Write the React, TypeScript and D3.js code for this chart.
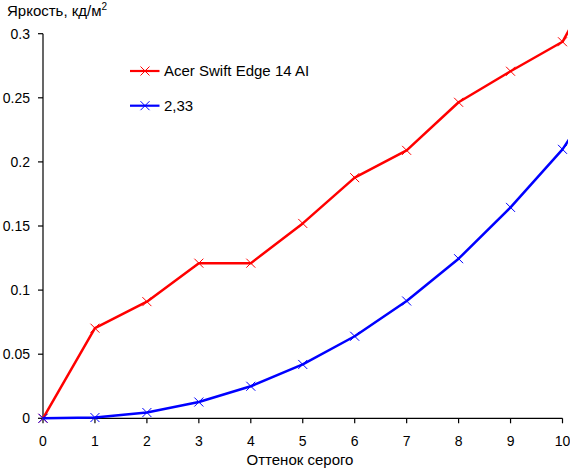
import React, { useEffect, useRef } from "react";
import * as d3 from "d3";

const grayLevels = [0, 1, 2, 3, 4, 5, 6, 7, 8, 9, 10, 11];
const acerValues = [0, 0.0703, 0.091, 0.121, 0.121, 0.152, 0.1877, 0.209, 0.2465, 0.2707, 0.2937, 0.367];
const gammaValues = [0, 0.0006, 0.0045, 0.0127, 0.025, 0.042, 0.064, 0.0915, 0.1245, 0.1645, 0.2098, 0.271];
const seriesNames = ["Acer Swift Edge 14 AI", "2,33"];
const seriesColors = ["#ff0000", "#0000ff"];
const xTicks = [0, 1, 2, 3, 4, 5, 6, 7, 8, 9, 10];
const yTicks = [0, 0.05, 0.1, 0.15, 0.2, 0.25, 0.3];
const yTitle = "Яркость, кд/м";
const xTitle = "Оттенок серого";

const W = 570;
const H = 468;
const FONT = "'Liberation Sans', Arial, sans-serif";

export default function App() {
  const ref = useRef<SVGSVGElement | null>(null);

  useEffect(() => {
    const svg = d3.select(ref.current);
    svg.selectAll("*").remove();

    const x = d3.scaleLinear().domain([0, 10]).range([43, 562.5]);
    const y = d3.scaleLinear().domain([0, 0.3]).range([418.3, 33.7]);

    svg
      .append("defs")
      .append("clipPath")
      .attr("id", "plotclip")
      .append("rect")
      .attr("x", 30)
      .attr("y", 20)
      .attr("width", 568 - 30)
      .attr("height", 410);

    // axes
    const axisG = svg.append("g").attr("stroke", "#000").attr("stroke-width", 1.2);
    axisG.append("line").attr("x1", x(0)).attr("x2", x(0)).attr("y1", y(0.3)).attr("y2", y(0));
    axisG.append("line").attr("x1", x(0)).attr("x2", x(10)).attr("y1", y(0)).attr("y2", y(0));
    yTicks.forEach((t) => {
      axisG.append("line").attr("x1", x(0) - 5).attr("x2", x(0)).attr("y1", y(t)).attr("y2", y(t));
    });
    xTicks.forEach((t) => {
      axisG.append("line").attr("x1", x(t)).attr("x2", x(t)).attr("y1", y(0)).attr("y2", y(0) + 5);
    });

    const fmt = (v: number) => String(+v.toFixed(2));
    svg
      .append("g")
      .selectAll("text")
      .data(yTicks)
      .join("text")
      .attr("x", 30)
      .attr("y", (d) => y(d))
      .attr("dy", "0.36em")
      .attr("text-anchor", "end")
      .attr("font-family", FONT)
      .attr("font-size", 14)
      .text((d) => fmt(d));

    svg
      .append("g")
      .selectAll("text")
      .data(xTicks)
      .join("text")
      .attr("x", (d) => x(d))
      .attr("y", 446)
      .attr("text-anchor", "middle")
      .attr("font-family", FONT)
      .attr("font-size", 14)
      .text((d) => String(d));

    // titles
    const tt = svg
      .append("text")
      .attr("x", 7)
      .attr("y", 16)
      .attr("font-family", FONT)
      .attr("font-size", 15)
      .text(yTitle);
    tt.append("tspan").attr("dy", -6).attr("font-size", 10).text("2");

    svg
      .append("text")
      .attr("x", 300)
      .attr("y", 465)
      .attr("text-anchor", "middle")
      .attr("font-family", FONT)
      .attr("font-size", 15)
      .text(xTitle);

    // series
    const allSeries = [acerValues, gammaValues];
    const line = d3
      .line<number>()
      .x((_, i) => x(grayLevels[i]))
      .y((d) => y(d))
      .curve(d3.curveLinear);

    const plot = svg.append("g").attr("clip-path", "url(#plotclip)");
    const drawX = (g: any, cx: number, cy: number, color: string) => {
      const s = 4.5;
      g.append("path")
        .attr("d", `M${cx - s},${cy - s}L${cx + s},${cy + s}M${cx - s},${cy + s}L${cx + s},${cy - s}`)
        .attr("stroke", color)
        .attr("stroke-width", 1)
        .attr("fill", "none");
    };

    allSeries.forEach((vals, si) => {
      const color = seriesColors[si];
      plot
        .append("path")
        .attr("d", line(vals))
        .attr("fill", "none")
        .attr("stroke", color)
        .attr("stroke-width", 2.5)
        .attr("stroke-linejoin", "round");
      vals.forEach((v, i) => {
        if (grayLevels[i] <= 10) drawX(plot, x(grayLevels[i]), y(v), color);
      });
    });

    // legend
    const legendY = [71, 105.7];
    seriesNames.forEach((name, i) => {
      const g = svg.append("g");
      g.append("line")
        .attr("x1", 130)
        .attr("x2", 159.5)
        .attr("y1", legendY[i])
        .attr("y2", legendY[i])
        .attr("stroke", seriesColors[i])
        .attr("stroke-width", 2.2);
      drawX(g, 145, legendY[i], seriesColors[i]);
      g.append("text")
        .attr("x", 164)
        .attr("y", legendY[i] + 5)
        .attr("font-family", FONT)
        .attr("font-size", 15)
        .text(name);
    });
  }, []);

  return (
    <svg
      ref={ref}
      width={W}
      height={H}
      style={{ position: "absolute", left: 0, top: 0, background: "#fff" }}
    />
  );
}
